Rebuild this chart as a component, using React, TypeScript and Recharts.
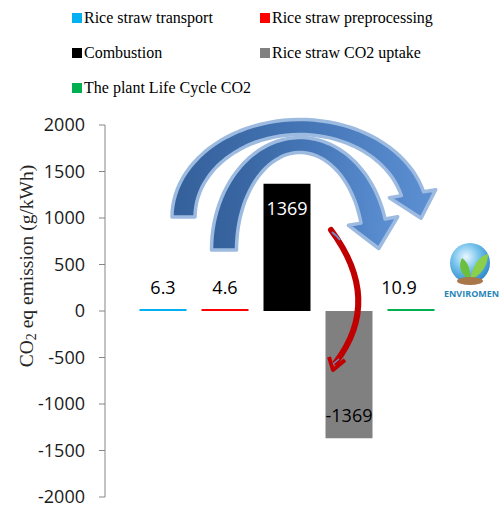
import React from 'react';
import { BarChart, Bar, XAxis, YAxis, Cell, LabelList, Legend } from 'recharts';

const categories = [
  'Rice straw transport',
  'Rice straw preprocessing',
  'Combustion',
  'Rice straw CO2 uptake',
  'The plant Life Cycle CO2',
];
const values = [6.3, 4.6, 1369, -1369, 10.9];
const colors = ['#00b0f0', '#ff0000', '#000000', '#808080', '#00b050'];
const labelColors = ['#000000', '#000000', '#ffffff', '#000000', '#000000'];
const labelShift = [0, 0, 0, 0, -12];
const yTicks = [-2000, -1500, -1000, -500, 0, 500, 1000, 1500, 2000];

const data = categories.map((c, i) => ({ name: c, value: values[i] }));

const SANS = '"Open Sans", "Liberation Sans", Arial, sans-serif';
const SERIF = '"Liberation Serif", "Times New Roman", serif';

const renderLabel = (props: any) => {
  const { x, y, width, height, index } = props;
  const top = Math.min(y, y + height);
  const bottom = Math.max(y, y + height);
  const v = values[index];
  let ty: number;
  if (Math.abs(v) < 100) ty = top - 22;
  else if (v > 0) ty = top + 24;
  else ty = bottom - 23;
  return (
    <text
      x={x + width / 2 + labelShift[index]}
      y={ty}
      textAnchor="middle"
      dominantBaseline="central"
      fill={labelColors[index]}
      fontFamily={SANS}
      fontSize={18}
    >
      {v}
    </text>
  );
};

const LegendContent = () => (
  <div
    style={{
      position: 'relative',
      width: 500,
      height: 100,
      fontFamily: SERIF,
      fontSize: 16,
      color: '#000',
    }}
  >
    {categories.map((c, i) => {
      const col = i % 2;
      const row = Math.floor(i / 2);
      return (
        <div
          key={c}
          style={{
            position: 'absolute',
            left: col ? 260 : 72,
            top: 8 + row * 35,
            height: 20,
            display: 'flex',
            alignItems: 'center',
            whiteSpace: 'nowrap',
          }}
        >
          <span
            style={{
              display: 'inline-block',
              width: 10,
              height: 10,
              background: colors[i],
              marginRight: 2,
            }}
          />
          {c}
        </div>
      );
    })}
  </div>
);

const YLabel = () => (
  <text
    x={26}
    y={266}
    transform="rotate(-90, 26, 266)"
    textAnchor="middle"
    dominantBaseline="central"
    fontFamily={SERIF}
    fontSize={19.5}
    fill="#262626"
  >
    CO
    <tspan fontSize={14} dy={5}>2</tspan>
    <tspan dy={-5}> eq emission (g/kWh)</tspan>
  </text>
);

function arcArrowPath(
  cx: number, cy: number, rx: number, ry: number,
  hwx: number, hwy: number, t0: number, t1: number,
  headHalf: number, headLen: number
) {
  const N = 48;
  const outer: number[][] = [];
  const inner: number[][] = [];
  for (let i = 0; i <= N; i++) {
    const t = ((t0 + ((t1 - t0) * i) / N) * Math.PI) / 180;
    outer.push([cx + (rx + hwx) * Math.cos(t), cy - (ry + hwy) * Math.sin(t)]);
    inner.push([cx + (rx - hwx) * Math.cos(t), cy - (ry - hwy) * Math.sin(t)]);
  }
  const te = (t1 * Math.PI) / 180;
  const P = [cx + rx * Math.cos(te), cy - ry * Math.sin(te)];
  let T = [rx * Math.sin(te), ry * Math.cos(te)];
  const tl = Math.hypot(T[0], T[1]);
  T = [T[0] / tl, T[1] / tl];
  let n = [outer[N][0] - inner[N][0], outer[N][1] - inner[N][1]];
  const nl = Math.hypot(n[0], n[1]);
  n = [n[0] / nl, n[1] / nl];
  const b1 = [P[0] + n[0] * headHalf, P[1] + n[1] * headHalf];
  const b2 = [P[0] - n[0] * headHalf, P[1] - n[1] * headHalf];
  const tip = [P[0] + T[0] * headLen, P[1] + T[1] * headLen];
  const pts = [...outer, b1, tip, b2, ...inner.slice().reverse()];
  return 'M' + pts.map((p) => `${p[0].toFixed(1)},${p[1].toFixed(1)}`).join(' L') + ' Z';
}

const Decorations = () => (
  <svg
    width={500}
    height={507}
    style={{ position: 'absolute', left: 0, top: 0, pointerEvents: 'none' }}
  >
    <defs>
      <linearGradient id="blueArrow" x1="0" y1="0" x2="1" y2="0">
        <stop offset="0%" stopColor="#34609a" />
        <stop offset="55%" stopColor="#4677b8" />
        <stop offset="100%" stopColor="#5d91d4" />
      </linearGradient>
      <radialGradient id="globe" cx="0.4" cy="0.35" r="0.75">
        <stop offset="0%" stopColor="#eaf7ff" />
        <stop offset="45%" stopColor="#74c2ec" />
        <stop offset="100%" stopColor="#1f7cc0" />
      </radialGradient>
    </defs>
    <path
      d={arcArrowPath(300, 217, 116.5, 90, 11.5, 7.5, 180, 15, 23.5, 26)}
      fill="url(#blueArrow)"
      stroke="#9dbbe0"
      strokeWidth={3.5}
      strokeLinejoin="round"
    />
    <path
      d={arcArrowPath(300, 250, 76, 105, 12.5, 7.5, 180, 16, 25, 28)}
      fill="url(#blueArrow)"
      stroke="#9dbbe0"
      strokeWidth={3.5}
      strokeLinejoin="round"
    />
    <path d="M331,230 Q383,300 336,362" fill="none" stroke="#c00000" strokeWidth={6} strokeLinecap="round" />
    <path d="M332,232 Q337,236 340,240" fill="none" stroke="#6d8fc4" strokeWidth={2} />
    <path d="M329,357 L333,370 L345,360" fill="none" stroke="#c00000" strokeWidth={4} strokeLinejoin="round" />
    <path d="M333,364 L339,359" fill="none" stroke="#6d8fc4" strokeWidth={1.5} />
    <rect x={421} y={224} width={79} height={78} fill="#ffffff" />
    <circle cx={470} cy={263} r={20} fill="url(#globe)" />
    <path d="M470,280 C460,274 458,266 462,258 C468,262 471,270 470,280 Z" fill="#6cbf3c" />
    <path d="M470,280 C472,268 478,256 488,254 C488,266 480,276 470,280 Z" fill="#8ccf4a" />
    <ellipse cx={470} cy={281} rx={13} ry={4} fill="#a8784a" />
    <text x={444} y={297} fontSize={9} fontWeight="bold" fill="#2b86b8" fontFamily={SANS}>
      ENVIROMEN
    </text>
  </svg>
);

export default function App() {
  return (
    <div style={{ position: 'absolute', left: 0, top: 0, width: 500, height: 507, background: '#fff' }}>
      <BarChart
        width={500}
        height={507}
        data={data}
        margin={{ top: 25, right: 58.5, bottom: 10, left: 0 }}
        barSize={47}
      >
        <Legend
          verticalAlign="top"
          align="left"
          content={<LegendContent />}
          wrapperStyle={{ top: 0, left: 0, width: 500, height: 100 }}
        />
        <XAxis dataKey="name" hide padding={{ left: 26.5, right: 0 }} />
        <YAxis
          width={105}
          domain={[-2000, 2000]}
          ticks={yTicks}
          interval={0}
          tickSize={6}
          tickMargin={14}
          axisLine={{ stroke: '#868686', strokeWidth: 1 }}
          tickLine={{ stroke: '#868686', strokeWidth: 1 }}
          tick={{ fill: '#1a1a1a', fontSize: 18, fontFamily: SANS }}
          label={{ content: () => <YLabel /> }}
        />
        <Bar dataKey="value" isAnimationActive={false} minPointSize={2}>
          {data.map((d, i) => (
            <Cell key={d.name} fill={colors[i]} />
          ))}
          <LabelList dataKey="value" content={renderLabel} />
        </Bar>
      </BarChart>
      <Decorations />
    </div>
  );
}
